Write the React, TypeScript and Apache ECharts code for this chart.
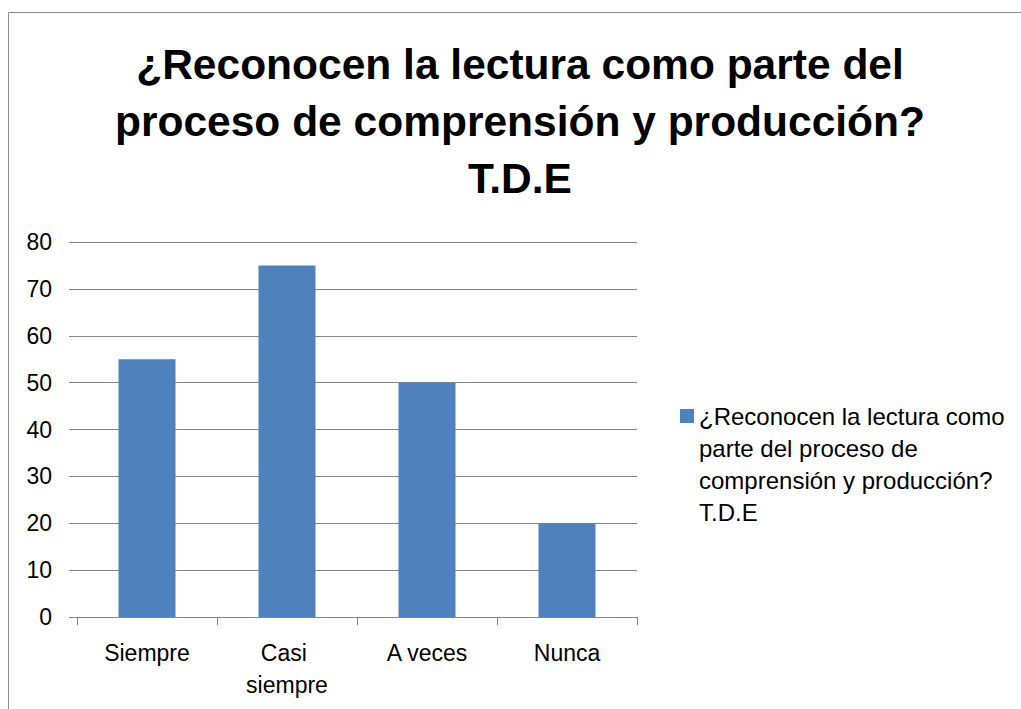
import React, { useEffect, useRef } from "react";
import * as echarts from "echarts";

const titleLines = ["¿Reconocen la lectura como parte del", "proceso de comprensión y producción?", "T.D.E"];
const seriesName = "¿Reconocen la lectura como parte del proceso de comprensión y producción? T.D.E";
const legendLines = ["¿Reconocen la lectura como", "parte del proceso de", "comprensión y producción?", "T.D.E"];
const categories = ["Siempre", "Casi siempre", "A veces", "Nunca"];
const values = [55, 75, 50, 20];
const yMin = 0;
const yMax = 80;
const yInterval = 10;

const FONT = "'Liberation Sans', Arial, sans-serif";
const GREY = "#868686";

export default function App() {
  const ref = useRef<HTMLDivElement>(null);
  useEffect(() => {
    document.body.style.margin = "0";
    const chart = echarts.init(ref.current!, null, { renderer: "svg" });
    chart.setOption({
      animation: false,
      backgroundColor: "#ffffff",
      textStyle: { fontFamily: FONT },
      title: {
        text: titleLines.join("\n"),
        left: 520,
        top: 36,
        padding: 0,
        textAlign: "center",
        textStyle: {
          fontFamily: FONT,
          fontWeight: "bold",
          fontSize: 42.5,
          lineHeight: 57,
          color: "#000000",
        },
      },
      legend: {
        orient: "vertical",
        left: 680,
        top: 304,
        padding: 0,
        itemWidth: 14,
        itemHeight: 14,
        icon: "rect",
        data: [seriesName],
        // leading blank lines keep the marker level with the first text line
        formatter: () => "\n\n\n" + legendLines.join("\n"),
        textStyle: {
          fontFamily: FONT,
          fontSize: 24,
          lineHeight: 32,
          color: "#000000",
        },
      },
      graphic: [
        {
          type: "rect",
          shape: { x: 8.5, y: 12.5, width: 1100, height: 800 },
          style: { fill: "none", stroke: "#8c8c8c", lineWidth: 1 },
          silent: true,
        },
      ],
      grid: { left: 77, right: 384, top: 242, bottom: 92, containLabel: false },
      xAxis: {
        type: "category",
        data: categories,
        axisLine: { show: true, lineStyle: { color: GREY, width: 1 } },
        axisTick: { show: true, length: 8, lineStyle: { color: GREY } },
        axisLabel: {
          color: "#000000",
          fontFamily: FONT,
          fontSize: 23,
          lineHeight: 32,
          margin: 20,
          width: 112,
          overflow: "break",
          interval: 0,
        },
        splitLine: { show: false },
      },
      yAxis: {
        type: "value",
        min: yMin,
        max: yMax,
        interval: yInterval,
        axisLine: { show: false },
        axisTick: { show: true, length: 8, lineStyle: { color: GREY } },
        axisLabel: {
          color: "#000000",
          fontFamily: FONT,
          fontSize: 23,
          margin: 25,
        },
        splitLine: { show: true, lineStyle: { color: GREY, width: 1 } },
      },
      series: [
        {
          name: seriesName,
          type: "bar",
          data: values,
          barWidth: 57,
          itemStyle: { color: "#4F81BD" },
        },
      ],
    });
    return () => chart.dispose();
  }, []);
  return <div ref={ref} style={{ width: 1021, height: 709 }} />;
}
